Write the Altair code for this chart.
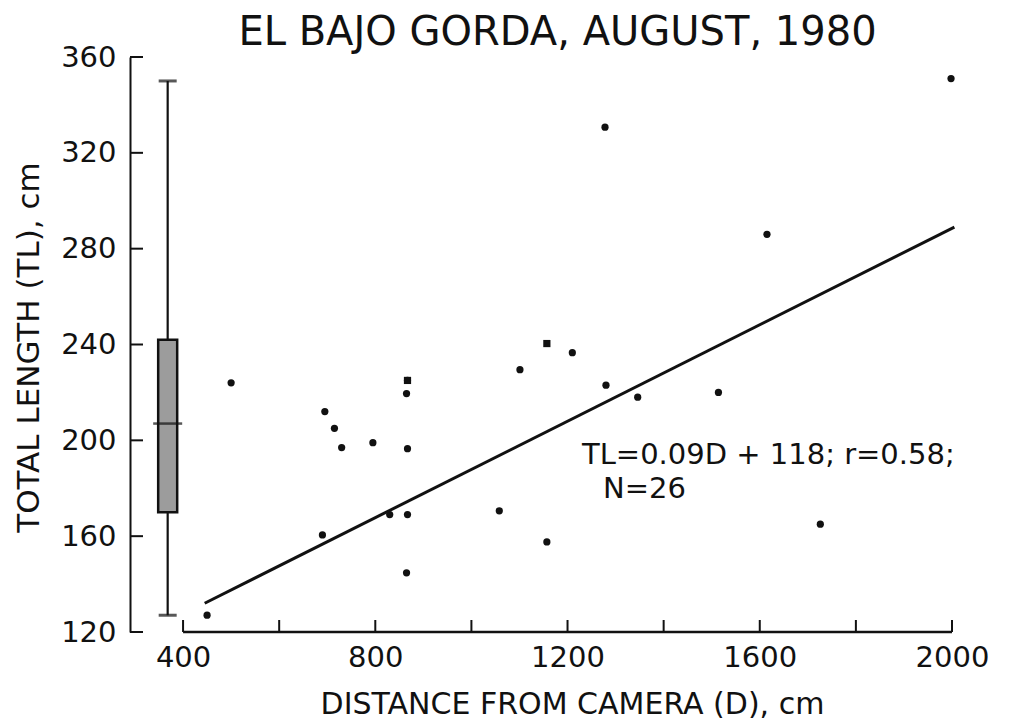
import altair as alt
import pandas as pd

# ---- data ----
dist = [450, 500, 695, 715, 730, 795, 867, 865, 867, 690, 830, 867, 865,
        1058, 1101, 1157, 1210, 1280, 1346, 1514, 1157, 1278, 1998, 1615, 1726, 867]
tl = [127, 224, 212, 205, 197, 199, 225, 219.5, 196.5, 160.5, 169, 169, 144.7,
      170.6, 229.5, 240.4, 236.6, 223, 218, 220, 157.6, 330.7, 351, 286, 165, 225]
shapes = ["circle"] * 6 + ["square"] + ["circle"] * 8 + ["square"] + ["circle"] * 10
shapes = shapes[:len(dist)]

# box plot of TL (min, q1, median, q3, max) at its position on the D axis
box_pos = [368]
box_stats = [127, 170, 207, 242, 350]

# fitted line end points as drawn
line_d = [445, 2005]
line_tl = [132, 289]

x_label_vals = [400, 800, 1200, 1600, 2000]
x_tick_vals = [400, 600, 800, 1000, 1200, 1400, 1600, 1800, 2000]
y_tick_vals = [120, 160, 200, 240, 280, 320, 360]

FONT = "DejaVu Sans"
INK = "#111111"
W, H = 827, 575

xs = alt.Scale(domain=[300, 2000], nice=False, zero=False)
ys = alt.Scale(domain=[120, 360], nice=False, zero=False)

pts_df = pd.DataFrame({"D": dist, "TL": tl, "shape": shapes})
box_df = pd.DataFrame({"pos": box_pos, "lo": [box_stats[0]], "q1": [box_stats[1]],
                       "med": [box_stats[2]], "q3": [box_stats[3]], "hi": [box_stats[4]]})
cap_df = pd.DataFrame({"pos": box_pos * 2, "v": [box_stats[0], box_stats[4]]})
line_df = pd.DataFrame({"D": line_d, "TL": line_tl})
xt_df = pd.DataFrame({"v": x_tick_vals})
yt_df = pd.DataFrame({"v": y_tick_vals})
xline_df = pd.DataFrame({"a": [min(x_tick_vals)], "b": [max(x_tick_vals)]})

x_axis = alt.Axis(
    values=x_label_vals, format="d", ticks=False, domain=False, grid=False,
    labelFontSize=29, labelPadding=11, labelFlush=False, labelOverlap=False,
    labelColor=INK, labelFont=FONT,
    title="DISTANCE FROM CAMERA (D), cm", titleFontSize=30, titleFont=FONT,
    titleFontWeight="normal", titleColor=INK, titleX=442, titleY=81,
    titleBaseline="alphabetic", titleAnchor="middle", titleAlign="center")
y_axis = alt.Axis(
    values=y_tick_vals, format="d", ticks=False, domain=True, domainColor=INK, domainWidth=2,
    grid=False, labelFontSize=29, labelPadding=14, labelColor=INK, labelFont=FONT,
    labelFlush=False, labelOverlap=False,
    title="TOTAL LENGTH (TL), cm", titleFontSize=31, titleFont=FONT,
    titleFontWeight="normal", titleColor=INK, titleX=-101, titleY=290,
    titleAngle=-90, titleAlign="center", titleBaseline="middle")

points = alt.Chart(pts_df).mark_point(filled=True, color=INK, opacity=1, size=52).encode(
    x=alt.X("D:Q", scale=xs, axis=x_axis),
    y=alt.Y("TL:Q", scale=ys, axis=y_axis),
    shape=alt.Shape("shape:N", scale=alt.Scale(domain=["circle", "square"],
                                               range=["circle", "square"]), legend=None),
)

yticks = alt.Chart(yt_df).mark_rule(color=INK, strokeWidth=2).encode(
    y=alt.Y("v:Q", scale=ys, axis=y_axis), x=alt.value(0), x2=alt.value(13))
xticks = alt.Chart(xt_df).mark_rule(color=INK, strokeWidth=2).encode(
    x=alt.X("v:Q", scale=xs, axis=x_axis), y=alt.value(H), y2=alt.value(H - 12))
xline = alt.Chart(xline_df).mark_rule(color=INK, strokeWidth=2.5).encode(
    x=alt.X("a:Q", scale=xs, axis=x_axis), x2="b:Q", y=alt.value(H))

whisker = alt.Chart(box_df).mark_rule(color=INK, strokeWidth=2.2).encode(
    x=alt.X("pos:Q", scale=xs, axis=x_axis), y=alt.Y("lo:Q", scale=ys, axis=y_axis), y2="hi:Q")
caps = alt.Chart(cap_df).mark_tick(orient="horizontal", size=18, thickness=3, color=INK).encode(
    x=alt.X("pos:Q", scale=xs, axis=x_axis), y=alt.Y("v:Q", scale=ys, axis=y_axis))
box = alt.Chart(box_df).mark_bar(size=19, fill="#9c9c9c", stroke=INK, strokeWidth=2.5).encode(
    x=alt.X("pos:Q", scale=xs, axis=x_axis), y=alt.Y("q1:Q", scale=ys, axis=y_axis), y2="q3:Q")
median = alt.Chart(box_df).mark_tick(orient="horizontal", size=29, thickness=2.5, color=INK).encode(
    x=alt.X("pos:Q", scale=xs, axis=x_axis), y=alt.Y("med:Q", scale=ys, axis=y_axis))

fit = alt.Chart(line_df).mark_line(color=INK, strokeWidth=3).encode(
    x=alt.X("D:Q", scale=xs, axis=x_axis), y=alt.Y("TL:Q", scale=ys, axis=y_axis))

ann1 = alt.Chart(pd.DataFrame({"t": ["TL=0.09D + 118; r=0.58;"]})).mark_text(
    align="left", baseline="alphabetic", fontSize=29, font=FONT, color=INK).encode(
    text="t:N", x=alt.value(452), y=alt.value(407))
ann2 = alt.Chart(pd.DataFrame({"t": ["N=26"]})).mark_text(
    align="left", baseline="alphabetic", fontSize=29, font=FONT, color=INK).encode(
    text="t:N", x=alt.value(473), y=alt.value(441))

chart = alt.layer(points, yticks, xticks, xline, whisker, box, median, caps, fit, ann1, ann2).properties(
    width=W, height=H, background="white",
    title=alt.TitleParams("EL BAJO GORDA, AUGUST, 1980", fontSize=40, fontWeight="normal",
                          font=FONT, color=INK, anchor="middle", dx=14, offset=-10),
    autosize=alt.AutoSizeParams(type="none"),
    padding={"left": 130, "top": 57, "right": 53, "bottom": 90},
).configure_view(stroke=None)

chart.save("out.html", embed_options={"renderer": "svg", "actions": False})
